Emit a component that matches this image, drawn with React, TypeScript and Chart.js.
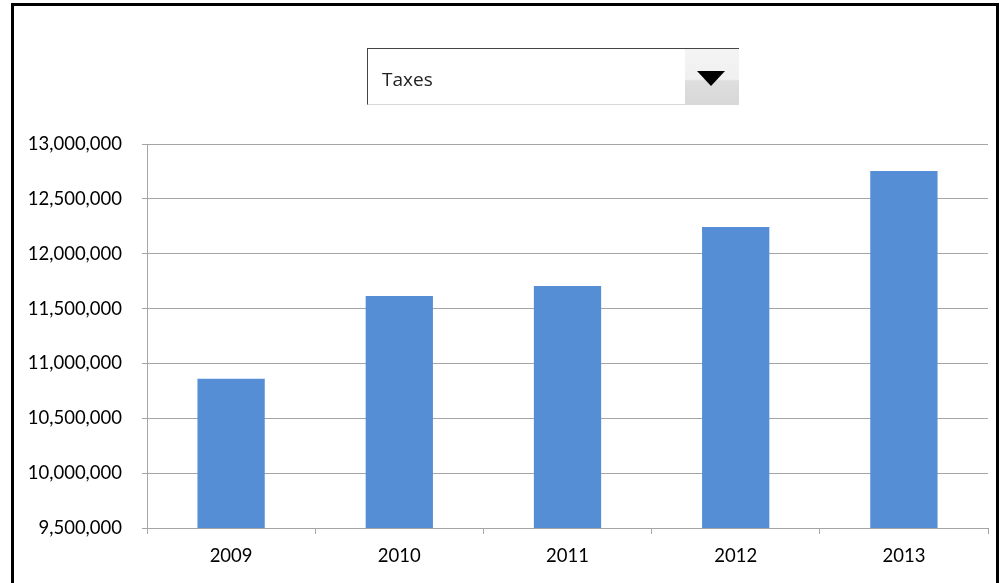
import React, { useEffect, useRef } from "react";
import { Chart, registerables } from "chart.js";

Chart.register(...registerables);

const years = ["2009", "2010", "2011", "2012", "2013"];
const taxes = [10860000, 11615000, 11706000, 12243000, 12754000];
const yMin = 9500000;
const yMax = 13000000;
const yStep = 500000;
const selectedMeasure = "Taxes";

export default function App() {
  const canvasRef = useRef<HTMLCanvasElement | null>(null);

  useEffect(() => {
    if (!canvasRef.current) return;
    const font = { family: "Lato, 'Open Sans', sans-serif", size: 18.5 };
    const chart = new Chart(canvasRef.current, {
      type: "bar",
      data: {
        labels: years,
        datasets: [
          {
            label: selectedMeasure,
            data: taxes,
            backgroundColor: "#558ed5",
            borderWidth: 0,
            barPercentage: 0.4,
            categoryPercentage: 1,
          },
        ],
      },
      options: {
        animation: false,
        responsive: false,
        maintainAspectRatio: false,
        devicePixelRatio: 1,
        layout: { padding: { top: 144, right: 17, bottom: 0, left: 0 } },
        plugins: { legend: { display: false }, tooltip: { enabled: false } },
        scales: {
          x: {
            offset: true,
            grid: {
              offset: true,
              drawOnChartArea: false,
              drawTicks: true,
              tickLength: 6,
              color: "#a5a5a5",
            },
            border: { color: "#a5a5a5", width: 1 },
            ticks: { color: "#000", font, padding: 11 },
            afterFit: (s: any) => {
              s.height = 55;
            },
          },
          y: {
            min: yMin,
            max: yMax,
            ticks: {
              stepSize: yStep,
              color: "#000",
              font,
              padding: 20,
              callback: (v: any) => Number(v).toLocaleString("en-US"),
            },
            grid: { color: "#a5a5a5", tickLength: 5, drawTicks: true },
            border: { color: "#a5a5a5", width: 1 },
            afterFit: (s: any) => {
              s.width = 147;
            },
          },
        },
      },
    });
    return () => chart.destroy();
  }, []);

  return (
    <div
      style={{
        position: "fixed",
        left: 0,
        top: 0,
        width: 1005,
        height: 583,
        background: "#fff",
        overflow: "hidden",
      }}
    >
      <canvas
        ref={canvasRef}
        width={1005}
        height={583}
        style={{ position: "absolute", left: 0, top: 0, width: 1005, height: 583 }}
      />
      <div
        style={{
          position: "absolute",
          left: 11,
          top: 3,
          width: 982,
          height: 600,
          borderLeft: "3px solid #000",
          borderTop: "3px solid #000",
          borderRight: "3px solid #000",
          pointerEvents: "none",
        }}
      />
      <div
        style={{
          position: "absolute",
          left: 367,
          top: 48,
          width: 372,
          height: 57,
          borderTop: "1px solid #444",
          borderLeft: "1px solid #444",
          borderBottom: "1px solid #d8d8d8",
          boxSizing: "border-box",
          background: "#fff",
        }}
      >
        <div
          style={{
            position: "absolute",
            left: 14,
            top: 3,
            height: 55,
            lineHeight: "55px",
            fontFamily: "'Open Sans', sans-serif",
            fontSize: 19,
            color: "#222",
          }}
        >
          {selectedMeasure}
        </div>
        <div
          style={{
            position: "absolute",
            right: 0,
            top: 0,
            width: 54,
            height: 55,
            background: "linear-gradient(#f4f4f4 0%, #f0f0f0 55%, #dedede 58%, #d8d8d8 100%)",
          }}
        >
          <div
            style={{
              position: "absolute",
              left: 12,
              top: 22,
              width: 0,
              height: 0,
              borderLeft: "14px solid transparent",
              borderRight: "14px solid transparent",
              borderTop: "15px solid #000",
            }}
          />
        </div>
      </div>
    </div>
  );
}
